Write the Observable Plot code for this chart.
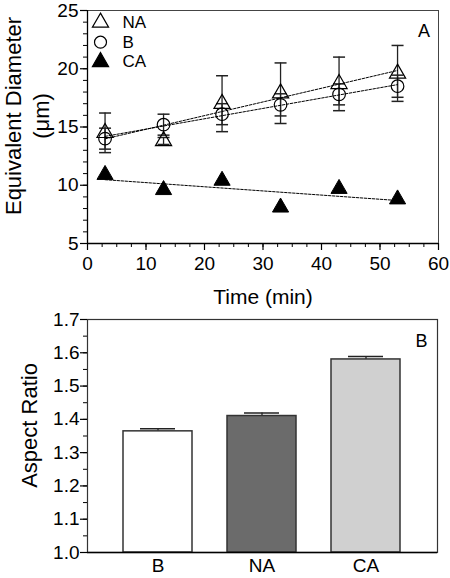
<!DOCTYPE html>
<html><head><meta charset="utf-8">
<script src="https://cdn.jsdelivr.net/npm/d3@7"></script>
<script src="https://cdn.jsdelivr.net/npm/@observablehq/plot@0.6"></script>
<style>
body{margin:0;background:#fff;}
#wrap{width:450px;height:578px;position:relative;}
#wrap svg{display:block;}
</style></head><body><div id="wrap"></div>
<script>
// ---- Panel A data ----
const times = [3, 13, 23, 33, 43, 53];
const naMean = [14.5, 13.8, 17.0, 17.9, 18.7, 19.6];
const naErr  = [1.7, 0.3, 2.4, 2.6, 2.3, 2.4];
const bMean  = [14.0, 15.2, 16.1, 16.9, 17.8, 18.5];
const bErr   = [0.9, 0.9, 0.9, 0.95, 0.9, 0.95];
const caMean = [10.9, 9.6, 10.4, 8.1, 9.7, 8.8];
const legendLabels = ["NA", "B", "CA"];
const xTicks = [0, 10, 20, 30, 40, 50, 60];
const yTicks = [5, 10, 15, 20, 25];
const panelA = "A";
const xTitle = "Time (min)";
const yTitleA = "Equivalent Diameter\n(\u03bcm)";

// ---- Panel B data ----
const barGroups = ["B", "NA", "CA"];
const barValues = [1.364, 1.41, 1.58];
const barErrs   = [0.008, 0.009, 0.009];
const barColors = ["#ffffff", "#6b6b6b", "#d0d0d0"];
const arTicks = [1.0, 1.1, 1.2, 1.3, 1.4, 1.5, 1.6, 1.7];
const panelB = "B";
const yTitleB = "Aspect Ratio";

const font = "'Liberation Sans', Arial, Helvetica, sans-serif";
const timeData = times.map((t, i) => ({t, na: naMean[i], naE: naErr[i], b: bMean[i], bE: bErr[i], ca: caMean[i]}));
const cap = {draw(ctx) { ctx.moveTo(-6, 0); ctx.lineTo(6, 0); }};
const minorX = d3.range(xTicks[0], xTicks[xTicks.length - 1] + 0.001, 2.5);
const minorY = d3.range(yTicks[0], yTicks[yTicks.length - 1] + 0.001, 1);
const minorAR = d3.range(0, 15).map(i => arTicks[0] + i * 0.05);

const legendMark = (i, symbol, fill) => [
  Plot.dot([legendLabels[i]], {frameAnchor: "top-left", dx: 13, dy: 12 + i * 19.7, symbol, r: 6, stroke: "#000", fill, strokeWidth: 1.2}),
  Plot.text([legendLabels[i]], {frameAnchor: "top-left", dx: 35, dy: 12 + i * 19.7, text: d => d, textAnchor: "start", lineAnchor: "middle", fontSize: 17, fill: "#000"})
];

const topPlot = Plot.plot({
  width: 450, height: 310,
  marginTop: 10, marginBottom: 67, marginLeft: 87, marginRight: 12,
  style: {fontFamily: font, fontSize: "19px", color: "#000", background: "#fff"},
  x: {domain: [xTicks[0], xTicks[xTicks.length - 1]]},
  y: {domain: [yTicks[0], yTicks[yTicks.length - 1]]},
  marks: [
    Plot.frame({stroke: "#444"}),
    Plot.ruleX([xTicks[0]], {stroke: "#000", strokeWidth: 1.3}),
    Plot.ruleY([yTicks[0]], {stroke: "#000", strokeWidth: 1.3}),
    Plot.axisX({ticks: xTicks, tickSize: 7, tickPadding: 6, label: null, strokeWidth: 1.2, fontSize: 19}),
    Plot.axisX({ticks: minorX, tickSize: 4, tickFormat: () => "", label: null}),
    Plot.axisY({ticks: yTicks, tickSize: 7, tickPadding: 2, label: null, strokeWidth: 1.2, fontSize: 19}),
    Plot.axisY({ticks: minorY, tickSize: 4, tickFormat: () => "", label: null}),
    // error bars
    Plot.ruleX(timeData, {x: "t", y1: d => d.na - d.naE, y2: d => d.na + d.naE, stroke: "#222", strokeWidth: 1.3}),
    Plot.dot(timeData, {x: "t", y: d => d.na + d.naE, symbol: cap, stroke: "#222", strokeWidth: 1.5}),
    Plot.dot(timeData, {x: "t", y: d => d.na - d.naE, symbol: cap, stroke: "#222", strokeWidth: 1.5}),
    Plot.ruleX(timeData, {x: "t", y1: d => d.b - d.bE, y2: d => d.b + d.bE, stroke: "#222", strokeWidth: 1.3}),
    Plot.dot(timeData, {x: "t", y: d => d.b + d.bE, symbol: cap, stroke: "#222", strokeWidth: 1.5}),
    Plot.dot(timeData, {x: "t", y: d => d.b - d.bE, symbol: cap, stroke: "#222", strokeWidth: 1.5}),
    // regression lines
    Plot.linearRegressionY(timeData, {x: "t", y: "na", stroke: "#000", strokeWidth: 1, strokeDasharray: "2.5,1.5", ci: 0}),
    Plot.linearRegressionY(timeData, {x: "t", y: "b", stroke: "#000", strokeWidth: 1, strokeDasharray: "2.5,1.5", ci: 0}),
    Plot.linearRegressionY(timeData, {x: "t", y: "ca", stroke: "#000", strokeWidth: 1, strokeDasharray: "2.5,1.5", ci: 0}),
    // points
    Plot.dot(timeData, {x: "t", y: "na", symbol: "triangle", r: 6, stroke: "#000", fill: "none", strokeWidth: 1.2}),
    Plot.dot(timeData, {x: "t", y: "b", symbol: "circle", r: 6.3, stroke: "#000", fill: "none", strokeWidth: 1.2}),
    Plot.dot(timeData, {x: "t", y: "ca", symbol: "triangle", r: 6, stroke: "#000", fill: "#000", strokeWidth: 1}),
    // legend
    ...legendMark(0, "triangle", "none"),
    ...legendMark(1, "circle", "none"),
    ...legendMark(2, "triangle", "#000"),
    // panel letter & titles
    Plot.text([panelA], {frameAnchor: "top-right", dx: -14.5, dy: 20.5, text: d => d, textAnchor: "middle", lineAnchor: "middle", fontSize: 18, fill: "#000"}),
    Plot.text([yTitleA], {frameAnchor: "left", dx: -61, dy: -11, rotate: -90, text: d => d, textAnchor: "middle", lineAnchor: "middle", fontSize: 22, lineHeight: 1.27, fill: "#000"}),
    Plot.text([xTitle], {frameAnchor: "bottom", dy: 54, text: d => d, textAnchor: "middle", lineAnchor: "middle", fontSize: 21, fill: "#000"})
  ]
});

const barData = barGroups.map((g, i) => ({g, v: barValues[i], e: barErrs[i], c: barColors[i]}));
const bottomPlot = Plot.plot({
  width: 450, height: 268,
  marginTop: 9, marginBottom: 26, marginLeft: 87, marginRight: 13,
  style: {fontFamily: font, fontSize: "19px", color: "#000", background: "#fff"},
  x: {domain: barGroups, padding: 0.335},
  y: {domain: [arTicks[0], arTicks[arTicks.length - 1]]},
  marks: [
    Plot.frame({stroke: "#333", strokeWidth: 1.2}),
    Plot.axisX({tickSize: 0, tickPadding: 6, label: null, fontSize: 19}),
    Plot.axisY({ticks: arTicks, tickSize: 7, tickPadding: 1, tickFormat: d3.format(".1f"), label: null, strokeWidth: 1.2, fontSize: 19}),
    Plot.axisY({ticks: minorAR, tickSize: 4, tickFormat: () => "", label: null}),
    Plot.ruleX(barData, {x: "g", y1: "v", y2: d => d.v + d.e, stroke: "#222", strokeWidth: 1.3}),
    Plot.tickY(barData, {x: "g", y: d => d.v + d.e, stroke: "#222", strokeWidth: 1.5, insetLeft: 17, insetRight: 17}),
    Plot.barY(barData, {x: "g", y1: arTicks[0], y2: "v", fill: "c", stroke: "#333", strokeWidth: 1.5}),
    Plot.ruleY([arTicks[0]], {stroke: "#000", strokeWidth: 1.3}),
    Plot.text([panelB], {frameAnchor: "top-right", dx: -16, dy: 22, text: d => d, textAnchor: "middle", lineAnchor: "middle", fontSize: 18, fill: "#000"}),
    Plot.text([yTitleB], {frameAnchor: "left", dx: -58, dy: -10.5, rotate: -90, text: d => d, textAnchor: "middle", lineAnchor: "middle", fontSize: 22, fill: "#000"})
  ]
});

const wrap = document.getElementById("wrap");
wrap.appendChild(topPlot);
wrap.appendChild(bottomPlot);
</script>
</body></html>
